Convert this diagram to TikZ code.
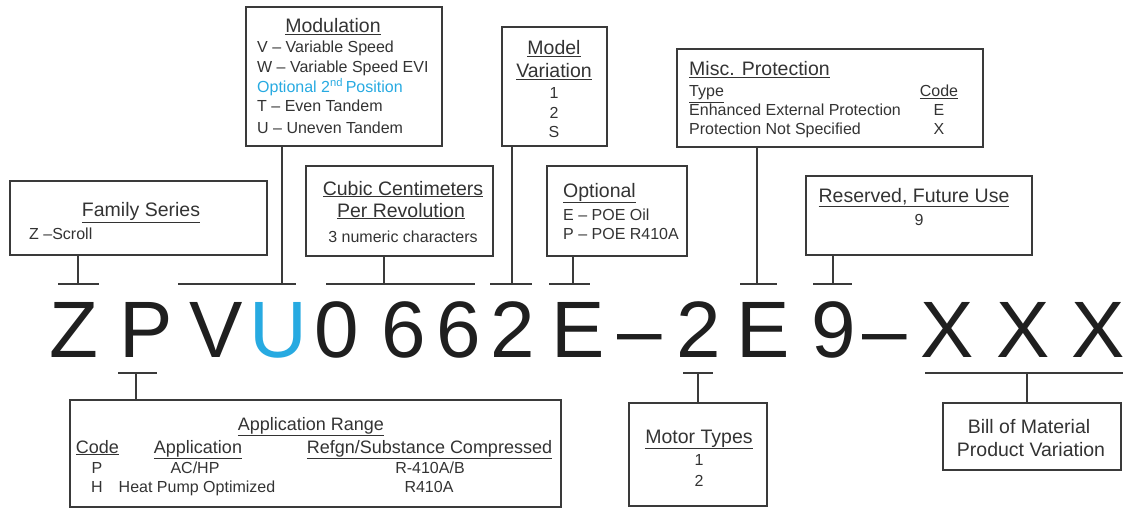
\documentclass[tikz,border=0pt]{standalone}
\usepackage{fontspec}
\setmainfont{Liberation Sans}
\usepackage{xcolor}
\usepackage{tikz}
\usetikzlibrary{calc}
\definecolor{ink}{HTML}{333333}
\definecolor{codeblue}{HTML}{27AAE1}
\definecolor{rule}{HTML}{3A3A3A}

\begin{document}
\begin{tikzpicture}[x=1pt, y=-1pt,
  box/.style={draw=rule, line width=1.4pt, inner sep=0pt},
  hd/.style={font=\fontsize{19.5}{22}\selectfont, text=ink, anchor=base, inner sep=0pt},
  hdm/.style={font=\fontsize{18}{20}\selectfont, text=ink, anchor=base, inner sep=0pt},
  txt/.style={font=\fontsize{16}{18}\selectfont, text=ink, anchor=base, inner sep=0pt},
  txtl/.style={txt, anchor=base west},
  big/.style={font=\fontsize{80}{80}\selectfont, text=black!88, anchor=base, inner sep=0pt},
  bar/.style={draw=rule, line width=1.2pt}]
  \useasboundingbox (0,0) rectangle (1124,508);
  % the model number
  \node[big] (cZ) at (73.5,357) {Z};
  \node[big] (cP) at (146,357) {P};
  \node[big] (cV) at (216,357) {V};
  \node[big, text=codeblue] (cU) at (278,357) {U};
  \node[big] (c0) at (336.5,357) {0};
  \node[big] (c6a) at (404,357) {6};
  \node[big] (c6b) at (459,357) {6};
  \node[big] (c2a) at (513,357) {2};
  \node[big] (cEa) at (578.5,357) {E};
  \node[big] (dsha) at (640,357) {–};
  \node[big] (c2b) at (699,357) {2};
  \node[big] (cEb) at (763.5,357) {E};
  \node[big] (c9) at (833.5,357) {9};
  \node[big] (dshb) at (885,357) {–};
  \node[big] (cXa) at (947.5,357) {X};
  \node[big] (cXb) at (1023,357) {X};
  \node[big] (cXc) at (1098,357) {X};
  % boxes above
  \node[box, minimum width=257, minimum height=74] (fam) at (138.5,218) {};
  \node[hd] (famH) at (141,216.5) {\underline{Family Series}};
  \node[txtl] (famZ) at (29,239) {Z –Scroll};
  \node[box, minimum width=196, minimum height=139] (mod) at (344,76.5) {};
  \node[hd] (modH) at (333,33) {\underline{Modulation}};
  \node[txtl] (modV) at (257,53) {V – Variable Speed};
  \node[txtl] (modW) at (257,73) {W – Variable Speed EVI};
  \node[txtl, text=codeblue] (modO) at (257,93) {Optional 2\textsuperscript{nd}\,Position};
  \node[txtl] (modT) at (257,112) {T – Even Tandem};
  \node[txtl] (modU) at (257,134) {U – Uneven Tandem};
  \node[box, minimum width=187, minimum height=90] (cub) at (399.5,211) {};
  \node[hd] (cubH) at (403,195) {\underline{Cubic Centimeters}};
  \node[hd] (cubR) at (401,217) {\underline{Per Revolution}};
  \node[txt] (cubN) at (403,242) {3 numeric characters};
  \node[box, minimum width=105, minimum height=119] (mdl) at (554.5,86.5) {};
  \node[hd] (mdlH) at (554,55) {\underline{Model}};
  \node[hd] (mdlV) at (554,78) {\underline{Variation}};
  \node[txt] (mdl1) at (554,99) {1};
  \node[txt] (mdl2) at (554,119) {2};
  \node[txt] (mdlS) at (554,138) {S};
  \node[box, minimum width=140, minimum height=90] (opt) at (617,211) {};
  \node[hd, anchor=base west] (optH) at (563,197) {\underline{Optional}};
  \node[txtl] (optE) at (563,220) {E – POE Oil};
  \node[txtl] (optP) at (563,239) {P – POE R410A};
  \node[box, minimum width=306, minimum height=98] (misc) at (830,98) {};
  \node[hd, anchor=base west] (miscH) at (689,76) {\underline{Misc. Protection}};
  \node[txtl] (miscT) at (689,97) {\underline{Type}};
  \node[txt] (miscC) at (939,97) {\underline{Code}};
  \node[txtl] (miscE) at (689,116) {Enhanced External Protection};
  \node[txt] (miscEc) at (939,116) {E};
  \node[txtl] (miscX) at (689,135) {Protection Not Specified};
  \node[txt] (miscXc) at (939,135) {X};
  \node[box, minimum width=226, minimum height=79] (res) at (919,215.5) {};
  \node[hd] (resH) at (914,202) {\underline{Reserved, Future Use}};
  \node[txt] (res9) at (919,225) {9};
  % boxes below
  \node[box, minimum width=491, minimum height=107] (app) at (315.5,453.5) {};
  \node[hdm] (appH) at (311,430) {\underline{Application Range}};
  \node[hdm] (appC) at (97.5,453) {\underline{Code}};
  \node[hdm] (appA) at (198,453) {\underline{Application}};
  \node[hdm] (appR) at (429.5,453) {\underline{Refgn/Substance Compressed}};
  \node[txt] (appP) at (97,473) {P};
  \node[txt] (appPa) at (195,473) {AC/HP};
  \node[txt] (appPr) at (430,473) {R-410A/B};
  \node[txt] (appHc) at (97,492) {H};
  \node[txt] (appHa) at (197,492) {Heat Pump Optimized};
  \node[txt] (appHr) at (429,492) {R410A};
  \node[box, minimum width=138, minimum height=103] (mot) at (698,454.5) {};
  \node[hd] (motH) at (699,443) {\underline{Motor Types}};
  \node[txt] (mot1) at (699,465) {1};
  \node[txt] (mot2) at (699,486) {2};
  \node[box, minimum width=178, minimum height=67] (bom) at (1032,436.5) {};
  \node[hd] (bomA) at (1029,433) {Bill of Material};
  \node[hd] (bomB) at (1031,456) {Product Variation};
  % tee connectors
  \coordinate (famT) at (78,284);    \coordinate (famL) at (58,284);  \coordinate (famR) at (99,284);
  \coordinate (modT) at (282,284);   \coordinate (modL) at (178,284); \coordinate (modR) at (296,284);
  \coordinate (cubT) at (384,284);   \coordinate (cubL) at (326,284); \coordinate (cubR) at (475,284);
  \coordinate (mdlT) at (512,284);   \coordinate (mdlL) at (490,284); \coordinate (mdlR) at (532,284);
  \coordinate (optT) at (573,284);   \coordinate (optL) at (549,284); \coordinate (optR) at (590,284);
  \coordinate (miscT) at (757,284);  \coordinate (miscL) at (740,284); \coordinate (miscR) at (777,284);
  \coordinate (resT) at (833,284);   \coordinate (resL) at (813,284); \coordinate (resR) at (852,284);
  \coordinate (appT) at (136,373);   \coordinate (appL) at (118,373); \coordinate (appR) at (157,373);
  \coordinate (motT) at (698,373);   \coordinate (motL) at (683,373); \coordinate (motR) at (713,373);
  \coordinate (bomT) at (1027,373);  \coordinate (bomL) at (925,373); \coordinate (bomR) at (1123,373);
  \draw[bar] (fam.south -| famT) -- (famT);  \draw[bar] (famL) -- (famR);
  \draw[bar] (mod.south -| modT) -- (modT);  \draw[bar] (modL) -- (modR);
  \draw[bar] (cub.south -| cubT) -- (cubT);  \draw[bar] (cubL) -- (cubR);
  \draw[bar] (mdl.south -| mdlT) -- (mdlT);  \draw[bar] (mdlL) -- (mdlR);
  \draw[bar] (opt.south -| optT) -- (optT);  \draw[bar] (optL) -- (optR);
  \draw[bar] (misc.south -| miscT) -- (miscT); \draw[bar] (miscL) -- (miscR);
  \draw[bar] (res.south -| resT) -- (resT);  \draw[bar] (resL) -- (resR);
  \draw[bar] (appT) -- (app.north -| appT);  \draw[bar] (appL) -- (appR);
  \draw[bar] (motT) -- (mot.north -| motT);  \draw[bar] (motL) -- (motR);
  \draw[bar] (bomT) -- (bom.north -| bomT);  \draw[bar] (bomL) -- (bomR);
\end{tikzpicture}
\end{document}
